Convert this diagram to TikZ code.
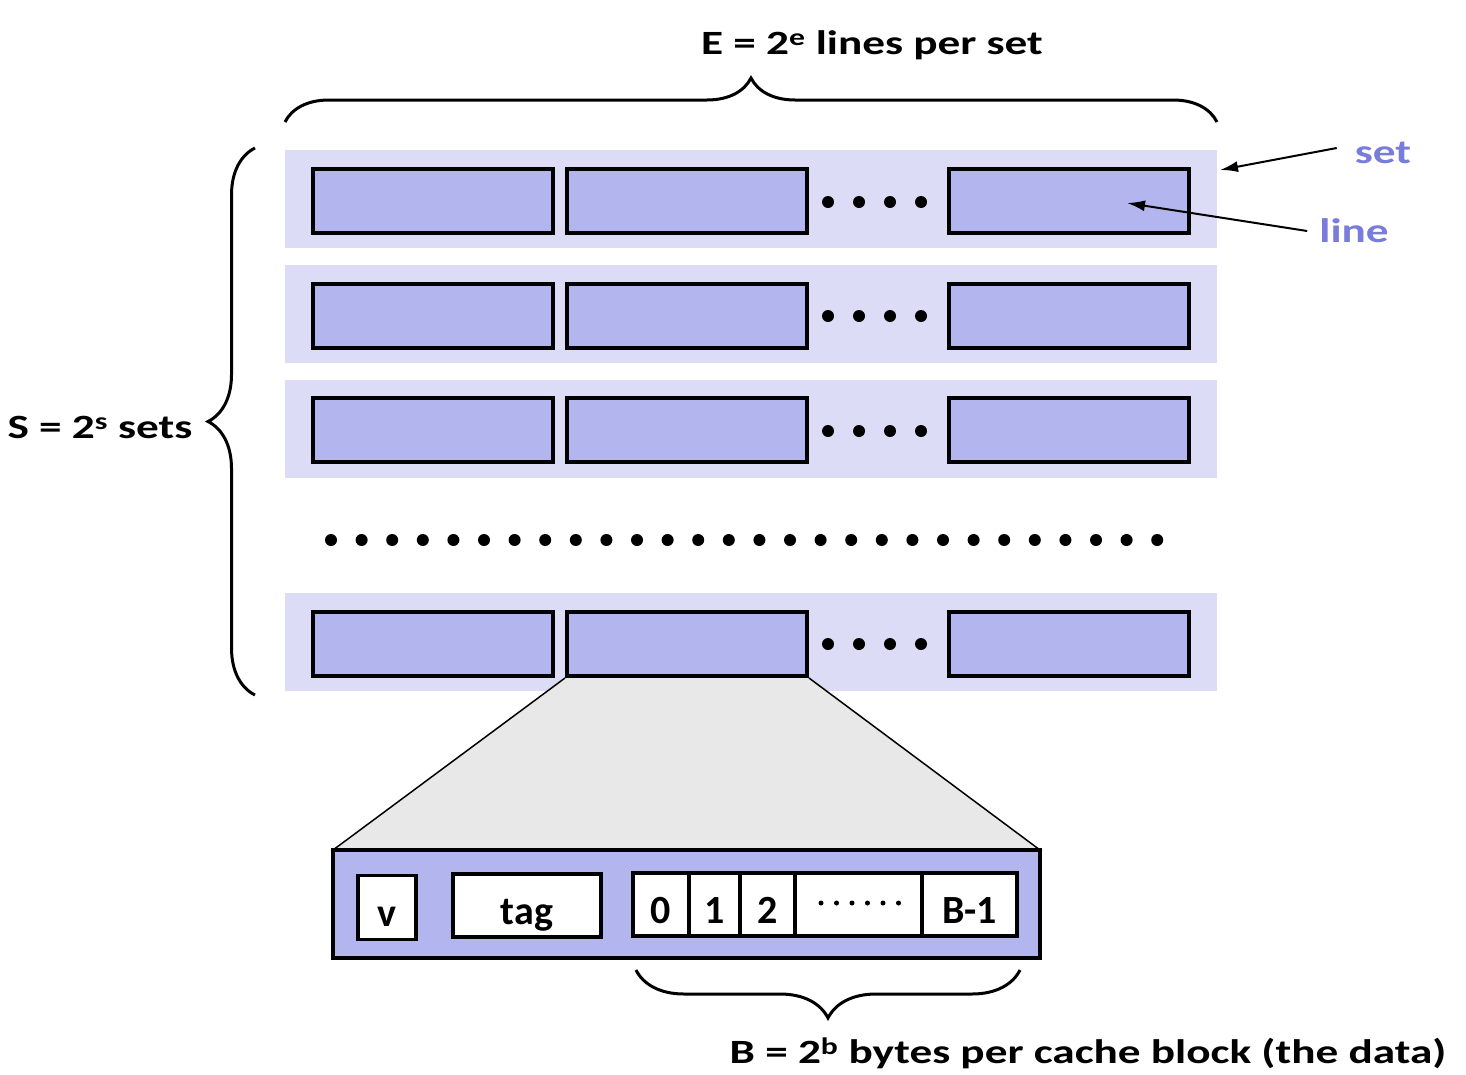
\documentclass[tikz,border=0pt]{standalone}
\usepackage{fontspec}
\setmainfont{Carlito}[FakeStretch=1.33]
\newfontfamily\cellfont{Carlito}
\usepackage{xcolor}
\usepackage{tikz}
\usetikzlibrary{arrows.meta,decorations.pathreplacing}
\definecolor{setbg}{RGB}{220,220,246}
\definecolor{linefill}{RGB}{179,182,238}
\definecolor{lblblue}{RGB}{120,124,218}
\definecolor{zoomgray}{RGB}{232,232,232}

\begin{document}
\begin{tikzpicture}[y=-1pt,x=1pt,
	setrow/.style={fill=setbg, minimum width=932pt, minimum height=98pt, inner sep=0pt},
	linebox/.style={draw, line width=4pt, fill=linefill, minimum width=240pt, minimum height=64pt, inner sep=0pt},
	cell/.style={draw, line width=3.5pt, fill=white, minimum height=63pt, inner sep=0pt, text height=37pt, text depth=0pt, font=\cellfont\fontsize{40}{44}\selectfont\bfseries},
	lbl/.style={font=\fontsize{34}{40}\selectfont\bfseries, inner sep=0pt},
	brc/.style={decorate, decoration={brace, amplitude=#1}, line width=3pt},
	arr/.style={-{Latex[length=18pt,width=11pt]}, line width=2pt}]
	\newcommand\Dots{+(0,0) circle (6) +(31,0) circle (6) +(62,0) circle (6) +(93,0) circle (6)}
	\newcommand\SmallDots{+(0,0) circle (2.5) +(15.5,0) circle (2.5) +(31,0) circle (2.5) +(46.5,0) circle (2.5) +(62,0) circle (2.5) +(77.5,0) circle (2.5)}

	\useasboundingbox (0,0) rectangle (1466,1074);

	\node[setrow] (s1) at (751,199) {};
	\node[setrow] (s2) at (751,313.5) {};
	\node[setrow] (s3) at (751,428.5) {};
	\node[setrow] (s4) at (751,642) {};

	\node[linebox] (l11) at (433,201) {};
	\node[linebox] (l12) at (687,201) {};
	\node[linebox] (l13) at (1069,201) {};
	\fill (828,202) \Dots;

	\node[linebox] (l21) at (433,315.5) {};
	\node[linebox] (l22) at (687,315.5) {};
	\node[linebox] (l23) at (1069,315.5) {};
	\fill (828,316) \Dots;

	\node[linebox] (l31) at (433,430) {};
	\node[linebox] (l32) at (687,430) {};
	\node[linebox] (l33) at (1069,430) {};
	\fill (828,431) \Dots;

	\foreach \i in {0,...,27}
		\fill (331+30.6*\i,540) circle (6);

	\node[linebox] (l41) at (433,644) {};
	\node[linebox] (l42) at (687,644) {};
	\node[linebox] (l43) at (1069,644) {};
	\fill (828,644) \Dots;

	\filldraw[fill=zoomgray, line width=1.5pt] (l42.south west) -- (333,850) -- (1040,850) -- (l42.south east);

	\node[draw, line width=4pt, fill=linefill, minimum width=707pt, minimum height=108pt, inner sep=0pt] (blk) at (686.5,904) {};
	\node[cell, minimum width=58pt, minimum height=64pt] (v) at (387,907.5) {v};
	\node[cell, minimum width=148pt] (tag) at (527,905.5) {tag};
	\node[cell, minimum width=56pt] (b0) at (661,904.5) {0};
	\node[cell, minimum width=51pt] (b1) at (714.5,904.5) {1};
	\node[cell, minimum width=55pt] (b2) at (767.5,904.5) {2};
	\node[cell, minimum width=127pt] (bdots) at (858.5,904.5) {};
	\node[cell, minimum width=95pt] (blast) at (969.5,904.5) {B-1};
	\fill (821,903) \SmallDots;

	\draw[brc=44pt] (285,122) -- (1217,122);
	\draw[brc=47pt] (255,695) -- (255,148);
	\draw[brc=48pt] (1020,970) -- (636,970);

	\node[lbl] (etxt) at (872,45) {E = 2\textsuperscript{e} lines per set};
	\node[lbl] (stxt) at (100,427) {S = 2\textsuperscript{s} sets};
	\node[lbl] (btxt) at (1088,1053) {B = 2\textsuperscript{b} bytes per cache block (the data)};

	\node[lbl, text=lblblue] (set) at (1383,153) {set};
	\node[lbl, text=lblblue] (line) at (1354,231) {line};
	\coordinate (setend) at (1220,170);
	\coordinate (lineend) at (1127,203);
	\draw[arr] ([xshift=-18pt,yshift=5pt]set.west) -- (setend);
	\draw[arr] ([xshift=-12pt]line.west) -- (lineend);
\end{tikzpicture}
\end{document}
